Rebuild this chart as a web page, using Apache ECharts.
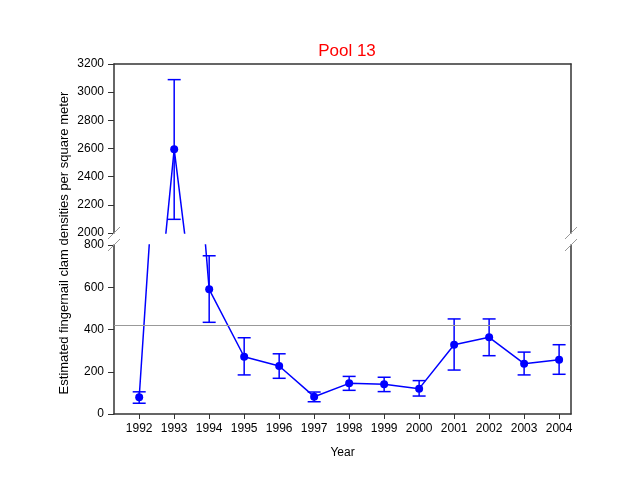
<!DOCTYPE html>
<html><head><meta charset="utf-8">
<script src="https://cdn.jsdelivr.net/npm/echarts@6/dist/echarts.min.js"></script>
<style>html,body{margin:0;padding:0;background:#fff}#c{width:640px;height:495px}</style>
</head><body><div id="c"></div>
<script>
const years = [1992,1993,1994,1995,1996,1997,1998,1999,2000,2001,2002,2003,2004];
const means = [79,2595,590,271,227,82,145,141,120,328,363,238,257];
const upper = [105,3089,749,361,285,104,178,174,158,450,450,293,328];
const lower = [51,2097,434,185,169,58,112,106,85,208,276,185,188];
const refLine = 420;
const topTicks = [2000,3200,200];
const botTicks = [0,800,200];

const FONT = 'Liberation Sans, Arial, sans-serif';
const L = 114, R = 69, T1 = 64, H = 169, T2 = 245;
const xMin = 1991.28, xMax = 2004.34;
const blue = '#0000ff', axisCol = '#333';

const pts = years.map((y,i)=>[y,means[i]]);
const errs = years.map((y,i)=>[y,lower[i],upper[i]]);

function errRender(params, api){
  const x = api.value(0);
  const lo = api.coord([x, api.value(1)]);
  const hi = api.coord([x, api.value(2)]);
  const w = 6.5;
  const st = {stroke: blue, lineWidth: 1.5};
  return {type:'group', children:[
    {type:'line', shape:{x1:lo[0],y1:lo[1],x2:hi[0],y2:hi[1]}, style:st},
    {type:'line', shape:{x1:lo[0]-w,y1:lo[1],x2:lo[0]+w,y2:lo[1]}, style:st},
    {type:'line', shape:{x1:hi[0]-w,y1:hi[1],x2:hi[0]+w,y2:hi[1]}, style:st}
  ]};
}

function yLeft(gi, t){
  return {gridIndex:gi, type:'value', min:t[0], max:t[1], interval:t[2], position:'left',
    axisLine:{show:true, lineStyle:{color:axisCol, width:1.5}},
    axisTick:{show:true, length:6, lineStyle:{color:axisCol, width:1}},
    axisLabel:{color:'#000', fontSize:12, fontFamily:FONT, margin:10, formatter:v=>String(v)},
    splitLine:{show:false}};
}
function yRight(gi, t){
  return {gridIndex:gi, type:'value', min:t[0], max:t[1], position:'right',
    axisLine:{show:true, lineStyle:{color:axisCol, width:1.5}},
    axisTick:{show:false}, axisLabel:{show:false}, splitLine:{show:false}};
}

const chart = echarts.init(document.getElementById('c'), null, {renderer:'canvas'});
const lineCommon = {type:'line', data:pts, symbol:'circle', symbolSize:8, clip:true,
  itemStyle:{color:blue}, lineStyle:{color:blue, width:1.5}, z:3, animation:false};
const errCommon = {type:'custom', data:errs, renderItem:errRender, clip:true, z:2, animation:false};

const mk = (x1,y1,x2,y2)=>({type:'line', shape:{x1,y1,x2,y2}, style:{stroke:'#999', lineWidth:1}, z:10});
const xr = 640 - R;
const yA = T1 + H, yB = T2;

chart.setOption({
  animation:false,
  title:{text:'Pool 13', left:342, top:38, textAlign:'center',
    textStyle:{color:'#ff0000', fontSize:17, fontWeight:'normal', fontFamily:FONT}},
  grid:[
    {left:L, right:R, top:T1, height:H},
    {left:L, right:R, top:T2, height:H}
  ],
  xAxis:[
    {gridIndex:0, type:'value', min:xMin, max:xMax, position:'top',
      axisLine:{show:true, lineStyle:{color:axisCol, width:1.5}},
      axisTick:{show:false}, axisLabel:{show:false}, splitLine:{show:false}},
    {gridIndex:1, type:'value', min:xMin, max:xMax, position:'bottom',
      name:'Year', nameLocation:'middle', nameGap:33,
      nameTextStyle:{color:'#000', fontSize:12, fontFamily:FONT},
      axisLine:{show:true, onZero:false, lineStyle:{color:axisCol, width:1.5}},
      axisTick:{show:true, length:5, customValues:years, lineStyle:{color:axisCol, width:1}},
      axisLabel:{color:'#000', fontSize:12, fontFamily:FONT, margin:9, customValues:years,
        formatter:v=>String(Math.round(v))},
      splitLine:{show:false}}
  ],
  yAxis:[ yLeft(0, topTicks), yRight(0, topTicks), yLeft(1, botTicks), yRight(1, botTicks) ],
  series:[
    Object.assign({}, lineCommon, {xAxisIndex:0, yAxisIndex:0}),
    Object.assign({}, errCommon, {xAxisIndex:0, yAxisIndex:0}),
    Object.assign({}, lineCommon, {xAxisIndex:1, yAxisIndex:2,
      markLine:{silent:true, symbol:'none', label:{show:false},
        lineStyle:{color:'#999', width:1, type:'solid'}, data:[{yAxis:refLine}]}}),
    Object.assign({}, errCommon, {xAxisIndex:1, yAxisIndex:2})
  ],
  graphic:[
    {type:'rect', shape:{x:L-8, y:yA+1, width:16, height:yB-yA-2}, style:{fill:'#fff'}, z:9},
    {type:'rect', shape:{x:xr-8, y:yA+1, width:16, height:yB-yA-2}, style:{fill:'#fff'}, z:9},
    mk(L-6, yA+6, L+6, yA-6), mk(L-6, yB+6, L+6, yB-6),
    mk(xr-6, yA+6, xr+6, yA-6), mk(xr-6, yB+6, xr+6, yB-6),
    {type:'text', x:64, y:243, rotation:Math.PI/2,
      style:{text:'Estimated fingernail clam densities per square meter', fill:'#000',
        font:'13px ' + FONT, textAlign:'center', textVerticalAlign:'middle'}}
  ]
});
</script></body></html>
